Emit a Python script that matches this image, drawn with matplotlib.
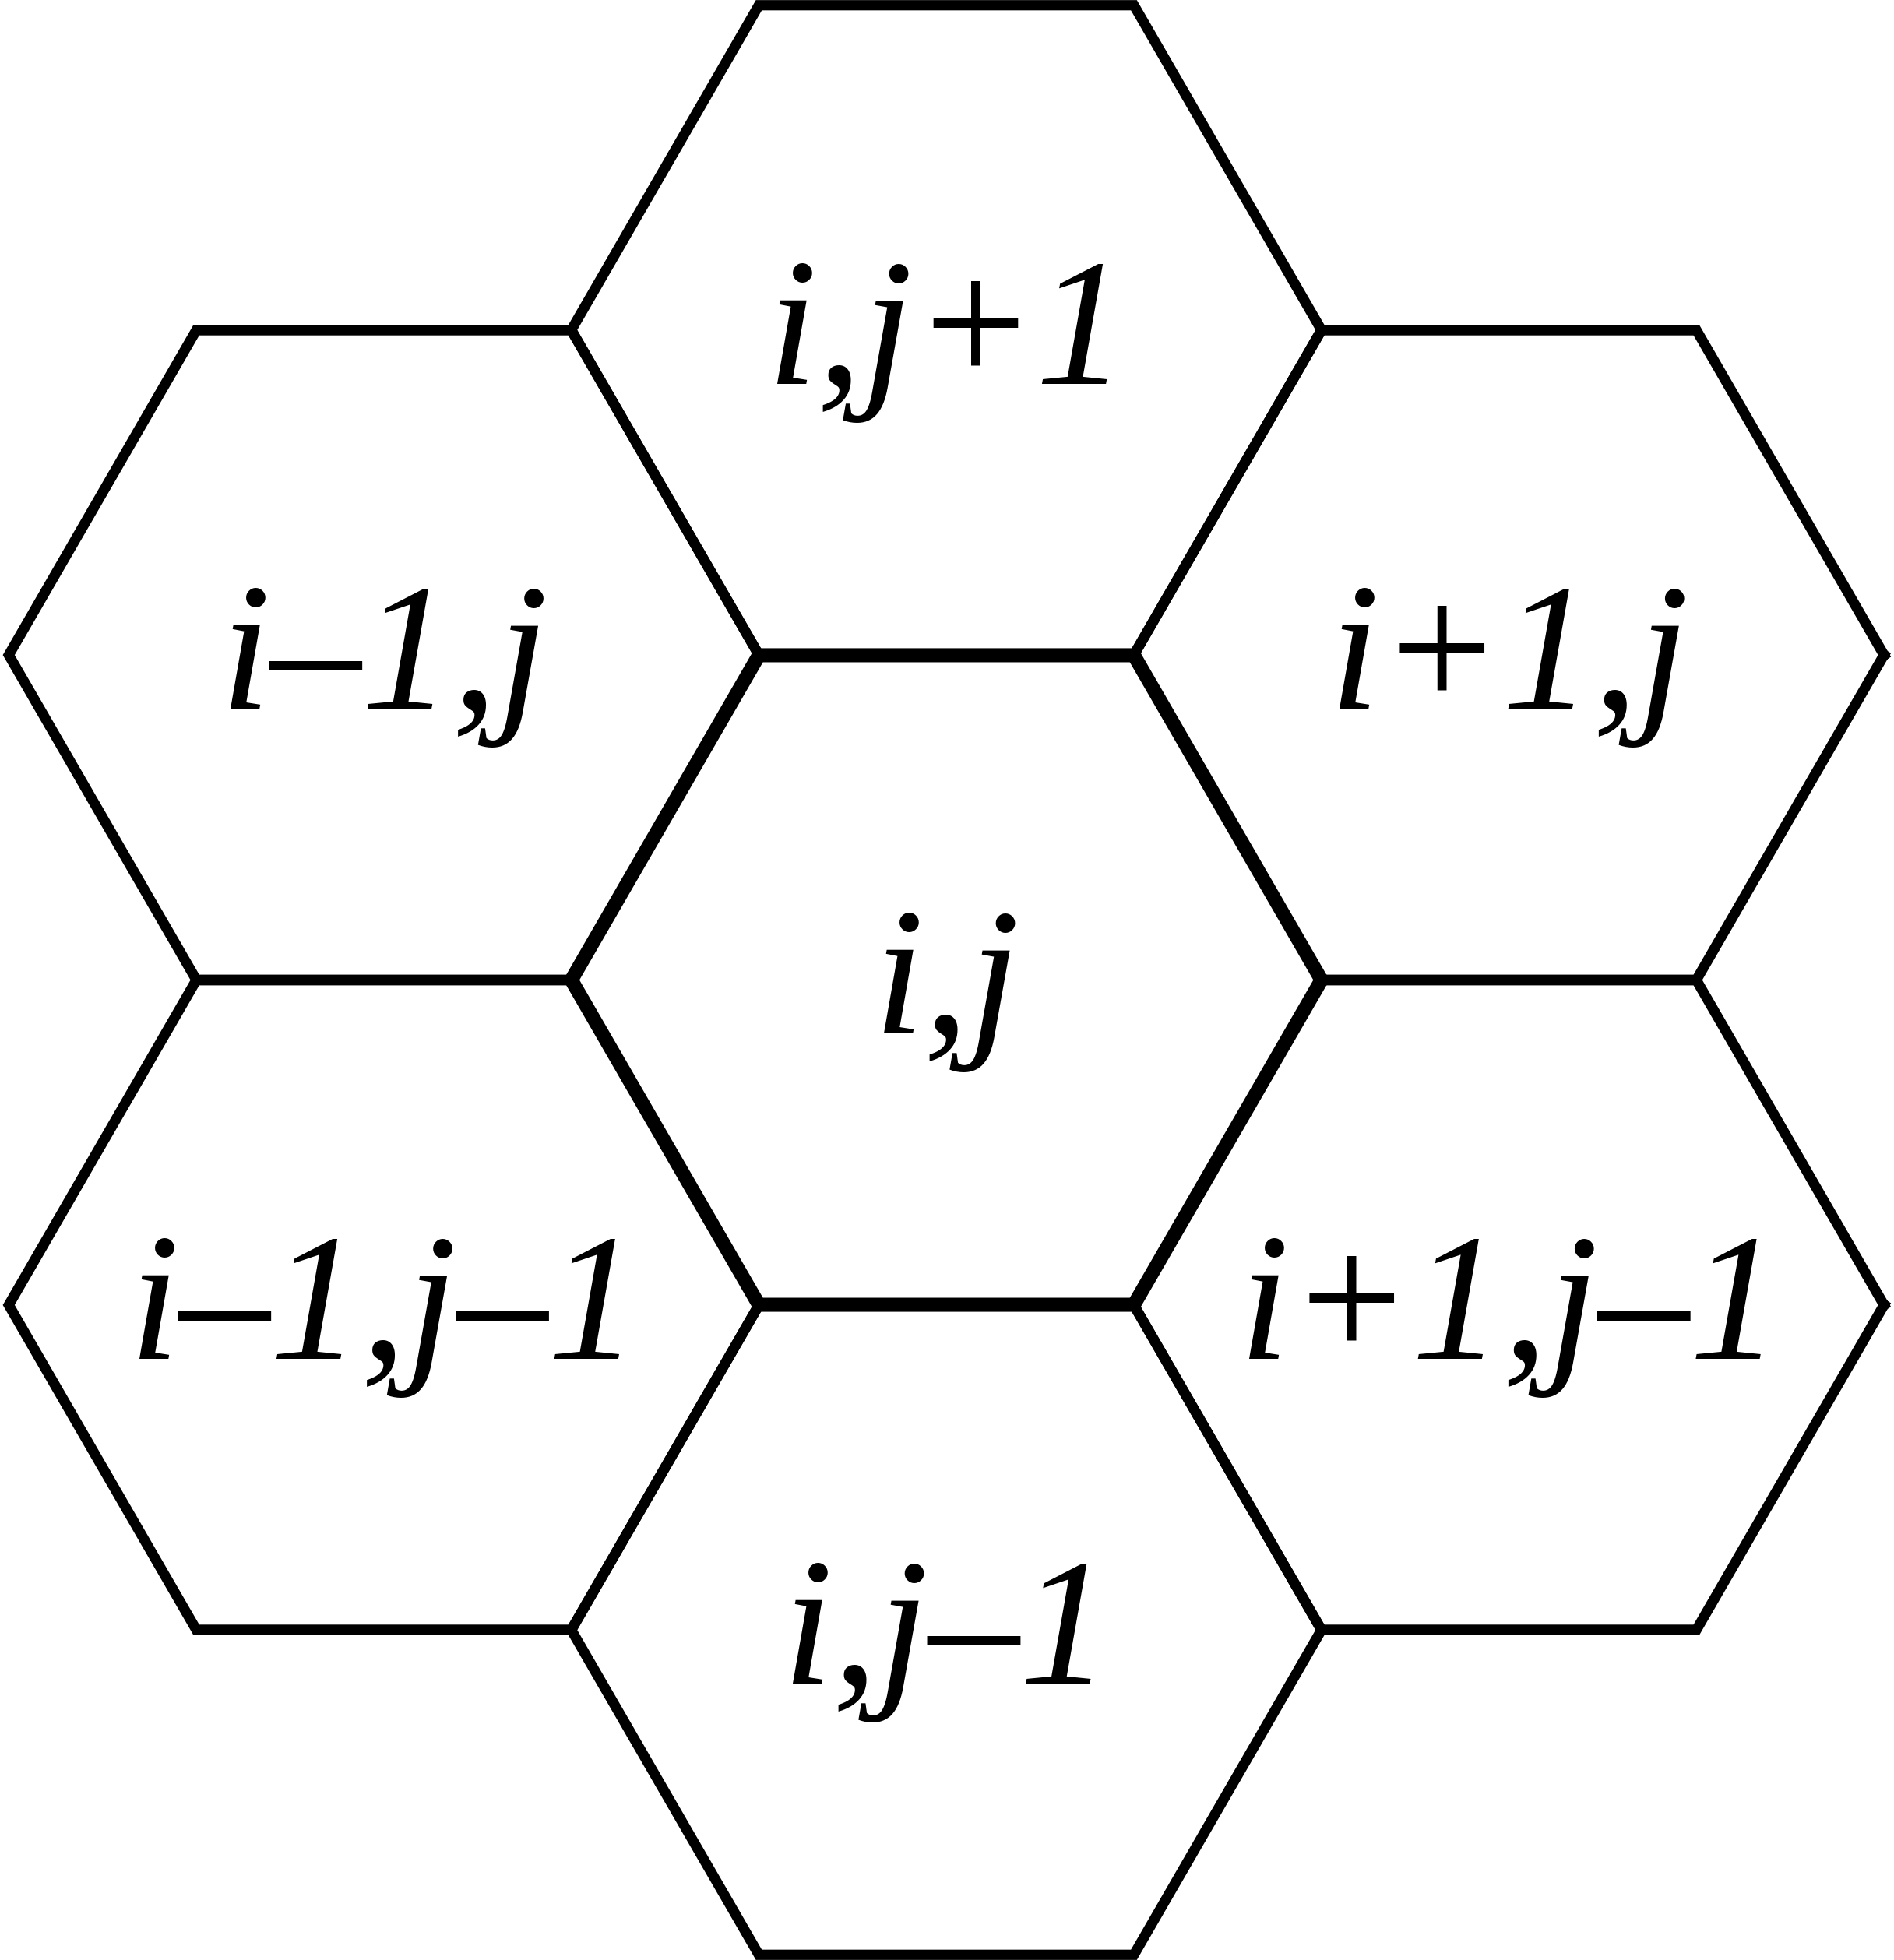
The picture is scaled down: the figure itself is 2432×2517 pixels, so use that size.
import matplotlib.pyplot as plt
import numpy as np

# hex centres (in reference pixel units, display scale) and labels
cx = [757, 757, 307, 1207, 307, 1207, 757]
cy = [784, 264, 524, 524, 1044, 1044, 1304]
labels = ['i,j', 'i,j+1', 'i–1,j', 'i+1,j', 'i–1,j–1', 'i+1,j–1', 'i,j–1']
side = 300

fig = plt.figure(figsize=(24.32, 25.17), dpi=100)
ax = fig.add_axes([0, 0, 1, 1])
ax.set_xlim(0, 1515)
ax.set_ylim(1568, 0)
ax.axis('off')

ang = np.radians(np.arange(0, 361, 60))
for k, (x, y, lab) in enumerate(zip(cx, cy, labels)):
    lw = 13 if k == 0 else 9.5
    ax.plot(x + side * np.cos(ang), y + side * np.sin(ang), color='black',
            lw=lw, solid_joinstyle='miter', zorder=3 if k == 0 else 2)
    ax.text(x, y + 8, lab, fontsize=168, family='Liberation Serif', style='italic',
            ha='center', va='center')

fig.savefig('out.png', dpi=100, facecolor='white')
